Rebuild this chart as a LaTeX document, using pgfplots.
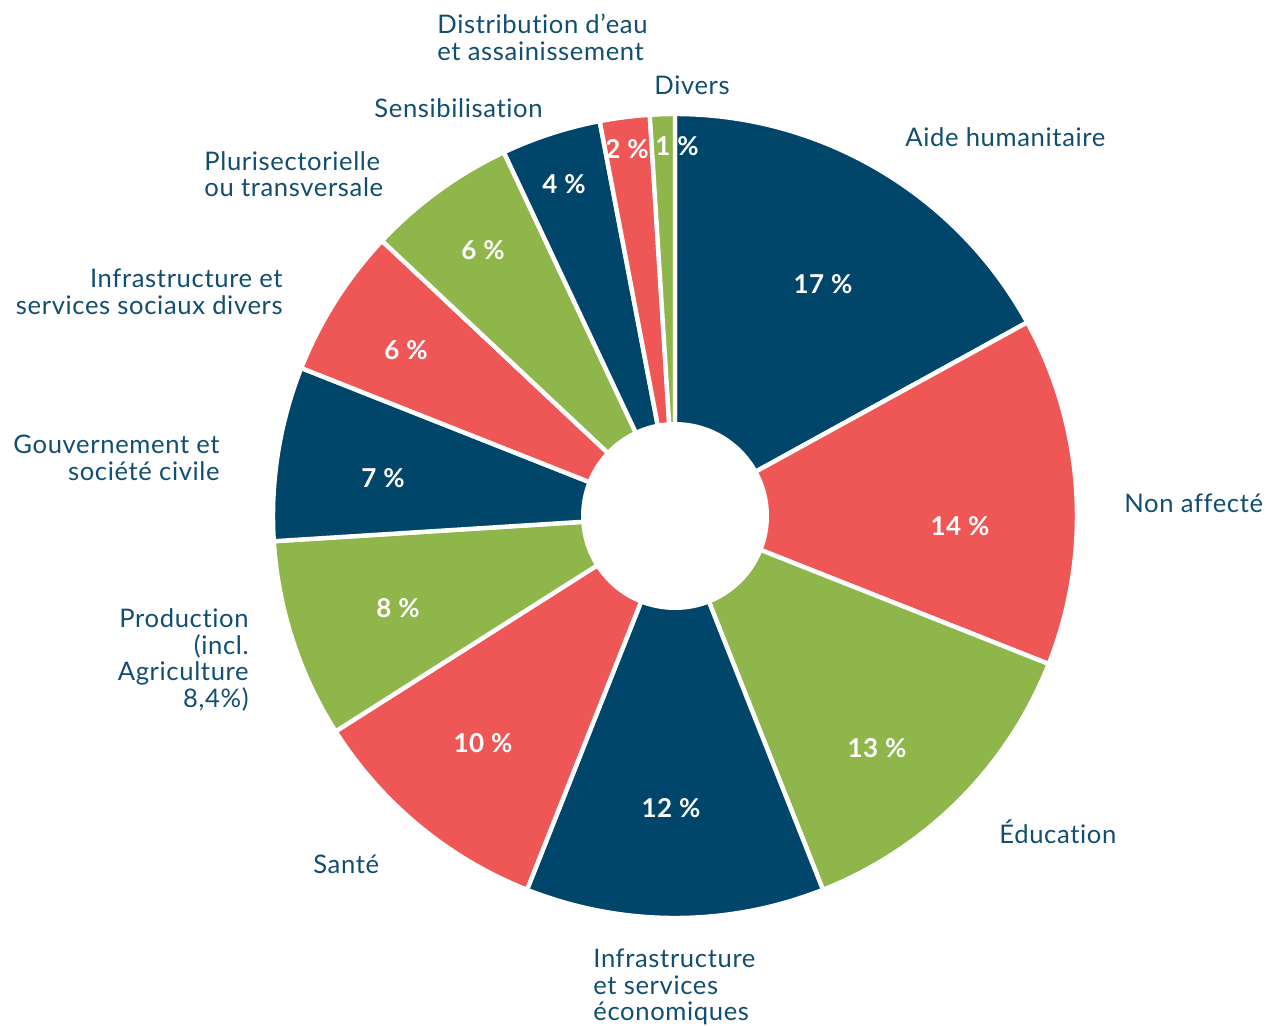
\documentclass[border=0pt]{standalone}
\usepackage{pgfplots}
\pgfplotsset{compat=1.18}
\usepackage{fontspec}
\setmainfont{Lato}[Ligatures={NoCommon},LetterSpace=2.5]
\newfontfamily\pctfont{Lato}[Ligatures={NoCommon},LetterSpace=2,BoldFont={* Bold}]
\definecolor{cblue}{HTML}{00456A}
\definecolor{cred}{HTML}{EF5756}
\definecolor{cgreen}{HTML}{8EB64A}
\definecolor{ctext}{HTML}{124E70}
\begin{document}
\begin{tikzpicture}
\begin{axis}[x=0.5pt,y=0.5pt,xmin=0,xmax=1266,ymin=0,ymax=1025,y dir=reverse,
  hide axis,clip=false]
\pgfplotsextra{
  \gdef\curang{90}
  \foreach \v/\c in {17/cblue,14/cred,13/cgreen,12/cblue,10/cred,8/cgreen,7/cblue,6/cred,6/cgreen,4/cblue,2/cred,1/cgreen}{
    \pgfmathsetmacro\endang{\curang-3.6*\v}
    \fill[\c,draw=white,line width=2.2pt,line join=round] (axis cs:675,516) -- ++(\curang:201pt) arc[start angle=\curang,end angle=\endang,radius=201pt] -- cycle;
    \xdef\curang{\endang}
  }
  \fill[white] (axis cs:675,516) circle[radius=47pt];
}
\path (axis cs:0,0) (axis cs:1266,1025);
% percentages
\begin{scope}[every node/.style={text=white,font=\pctfont\bfseries\fontsize{13}{15}\selectfont,inner sep=0pt}]
\node at (axis cs:823,284) {17 \%};
\node at (axis cs:960,526) {14 \%};
\node at (axis cs:877,748) {13 \%};
\node at (axis cs:671,808) {12 \%};
\node at (axis cs:483,743) {10 \%};
\node at (axis cs:398,608) {8 \%};
\node at (axis cs:383,478) {7 \%};
\node at (axis cs:406,350) {6 \%};
\node at (axis cs:483,250) {6 \%};
\node at (axis cs:564,184) {4 \%};
\node at (axis cs:627,149) {2 \%};
\node at (axis cs:677,146) {1 \%};
\end{scope}
% category labels
\begin{scope}[every node/.style={text=ctext,font=\fontsize{12.8}{14}\selectfont,inner sep=0pt}]
\node[anchor=base west] at (axis cs:437,33) {Distribution d’eau};
\node[anchor=base west] at (axis cs:437,60) {et assainissement};
\node[anchor=base west] at (axis cs:654,94) {Divers};
\node[anchor=base west] at (axis cs:905,146) {Aide humanitaire};
\node[anchor=base west] at (axis cs:374,117) {Sensibilisation};
\node[anchor=base west] at (axis cs:204,170) {Plurisectorielle};
\node[anchor=base west] at (axis cs:204,196) {ou transversale};
\node[anchor=base east] at (axis cs:283,287) {Infrastructure et};
\node[anchor=base east] at (axis cs:283,314) {services sociaux divers};
\node[anchor=base east] at (axis cs:220,453) {Gouvernement et};
\node[anchor=base east] at (axis cs:220,480) {société civile};
\node[anchor=base west] at (axis cs:1124,512) {Non affecté};
\node[anchor=base east] at (axis cs:249,627) {Production};
\node[anchor=base east] at (axis cs:249,654) {(incl.};
\node[anchor=base east] at (axis cs:249,680) {Agriculture};
\node[anchor=base east] at (axis cs:249,707) {8,4\%)};
\node[anchor=base west] at (axis cs:313,873) {Santé};
\node[anchor=base west] at (axis cs:999,843) {Éducation};
\node[anchor=base west] at (axis cs:593,967) {Infrastructure};
\node[anchor=base west] at (axis cs:593,994) {et services};
\node[anchor=base west] at (axis cs:593,1020) {économiques};
\end{scope}
\end{axis}
\end{tikzpicture}
\end{document}
